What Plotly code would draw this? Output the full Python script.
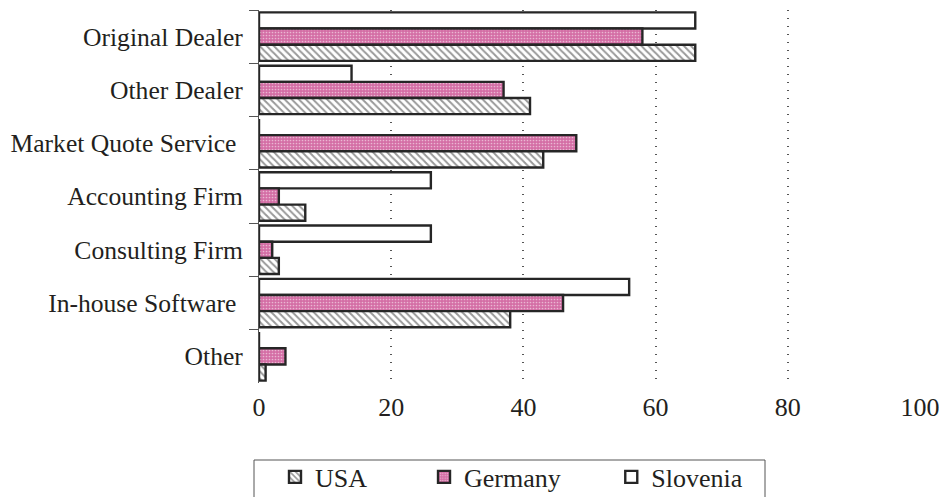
import plotly.graph_objects as go

categories = ["Original Dealer", "Other Dealer", "Market Quote Service ", "Accounting Firm",
              "Consulting Firm", "In-house Software ", "Other"]
usa = [66, 41, 43, 7, 3, 38, 1]
germany = [58, 37, 48, 3, 2, 46, 4]
slovenia = [66, 14, 0, 26, 26, 56, 0]
x_ticks = [0, 20, 40, 60, 80, 100]

FONT = "Liberation Serif, Times New Roman, serif"
TXT = "#231f20"
FS = 26
outline = dict(color="#262626", width=2.4)

fig = go.Figure()
fig.add_trace(go.Bar(
    y=categories, x=slovenia, orientation="h", name="Slovenia",
    marker=dict(color="white", line=outline), legendrank=3))
fig.add_trace(go.Bar(
    y=categories, x=germany, orientation="h", name="Germany" + "\u00a0" * 7,
    marker=dict(color="#d46ea5", line=outline,
                pattern=dict(shape=".", fgcolor="white", bgcolor="#d46ea5", size=3, solidity=0.25)),
    legendrank=2))
fig.add_trace(go.Bar(
    y=categories, x=usa, orientation="h", name="USA" + "\u00a0" * 8,
    marker=dict(color="white", line=outline,
                pattern=dict(shape="\\", fgcolor="#333333", bgcolor="white", size=5, solidity=0.4)),
    legendrank=1))

# legend frame
fig.add_shape(type="rect", xref="paper", yref="paper",
              x0=(254 - 259) / 661, x1=(765 - 259) / 661,
              y0=(383 - 510) / 373, y1=(383 - 460) / 373,
              line=dict(color="#555555", width=1), fillcolor="rgba(0,0,0,0)", layer="above")

fig.update_layout(
    width=939, height=489,
    margin=dict(l=251, r=27, t=2, b=114, autoexpand=False),
    paper_bgcolor="white", plot_bgcolor="white",
    font=dict(family=FONT, size=FS, color=TXT),
    barmode="group", bargap=0.09, bargroupgap=0.0,
    showlegend=True,
    legend=dict(orientation="h", x=(275 - 259) / 661, xanchor="left", y=-0.189, yanchor="top",
                borderwidth=0, bgcolor="rgba(0,0,0,0)", font=dict(size=FS, family=FONT, color=TXT),
                itemwidth=30),
)
fig.update_xaxes(range=[0, 100], tickvals=x_ticks, showgrid=True, gridcolor="#555555",
                 griddash="1px,7px", gridwidth=1.5, zeroline=False, showline=False,
                 ticks="", ticklabelstandoff=6, tickfont=dict(size=FS), automargin=False)
fig.update_yaxes(autorange="reversed", showline=True, linecolor="#555555", linewidth=1,
                 ticks="outside", ticklen=9, tickcolor="#555555", tickson="boundaries",
                 showgrid=False, ticklabelstandoff=10, tickfont=dict(size=25.6), automargin=False)

fig.write_html("out.html")
